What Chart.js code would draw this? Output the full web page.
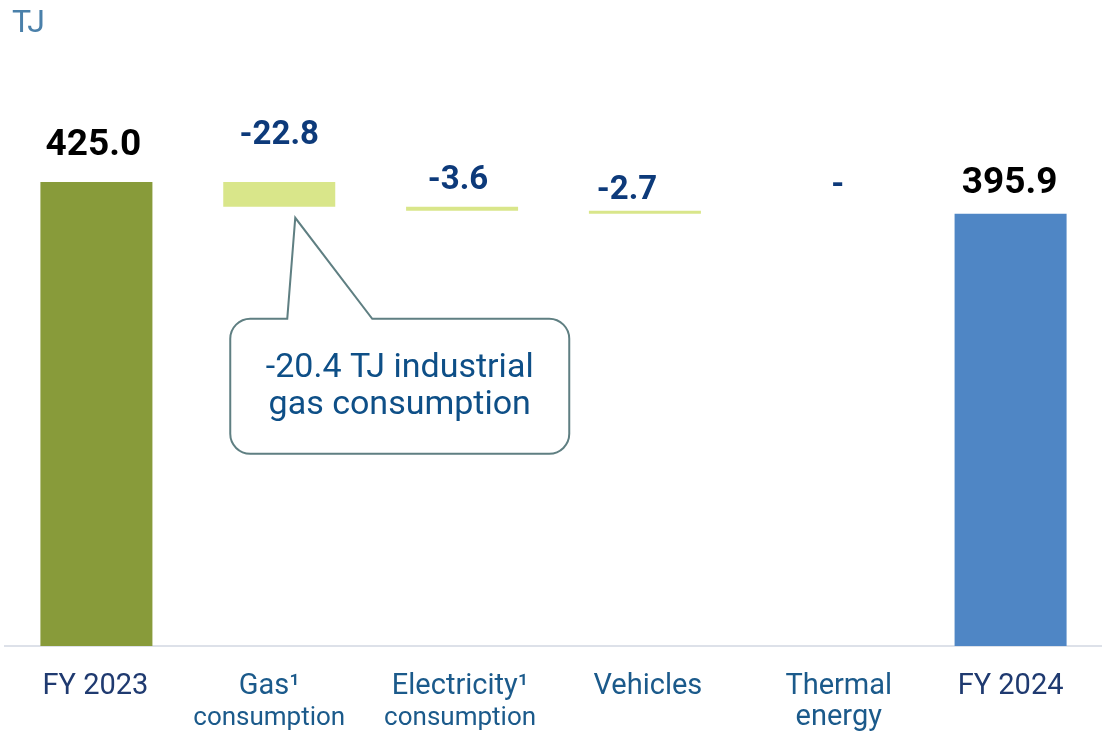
<!DOCTYPE html>
<html>
<head>
<meta charset="utf-8">
<script src="https://cdn.jsdelivr.net/npm/chart.js@4.4.1/dist/chart.umd.min.js"></script>
<style>
  html, body { margin: 0; padding: 0; background: #fff; }
  #wrap { position: relative; width: 1102px; height: 738px; }
</style>
</head>
<body>
<div id="wrap"><canvas id="energy-bridge" width="1102" height="738"></canvas></div>
<script>
var unitLabel = 'TJ';
var categories = ['FY 2023', 'Gas¹', 'Electricity¹', 'Vehicles', 'Thermal', 'FY 2024'];
var subLabels = ['', 'consumption', 'consumption', '', 'energy', ''];
var startTotal = 425.0;
var changes = [-22.8, -3.6, -2.7, 0];
var endTotal = 395.9;
var calloutLines = ['-20.4 TJ industrial', 'gas consumption'];

var barColors = ['#889b3a', '#d9e68a', '#d9e68a', '#d9e68a', '#d9e68a', '#4f86c5'];
// gap between bar top and the value label baseline, plus small sideways nudges
var labelGap = [27, 38, 18, 12, 20, 21];
var labelNudge = [-3, 0, -4, -18, 10, -1];
var tickNudge = [-1, -10, -2, 3, 11, 0];

// floating ranges for the bridge: totals start at zero, changes step down
var ranges = [[0, startTotal]];
var level = startTotal;
changes.forEach(function(c) {
  var next = level + c;
  ranges.push([Math.min(level, next), Math.max(level, next)]);
  level = next;
});
ranges.push([0, endTotal]);

var valueLabels = [startTotal.toFixed(1)]
  .concat(changes.map(function(c) { return c === 0 ? '-' : c.toFixed(1); }))
  .concat([endTotal.toFixed(1)]);

var isTotal = function(i) { return i === 0 || i === categories.length - 1; };

var bridgeText = {
  id: 'bridgeText',
  afterDraw: function(chart) {
    var ctx = chart.ctx;
    var area = chart.chartArea;
    var xScale = chart.scales.x;
    var meta = chart.getDatasetMeta(0);
    ctx.save();

    // unit
    ctx.font = '32px Roboto';
    ctx.fillStyle = '#4a80aa';
    ctx.textAlign = 'left';
    ctx.textBaseline = 'alphabetic';
    ctx.fillText(unitLabel, 12, 32);

    // value labels
    ctx.textAlign = 'center';
    meta.data.forEach(function(bar, i) {
      var top = Math.min(bar.y, bar.base);
      if (isTotal(i)) {
        ctx.font = 'bold 37px Roboto';
        ctx.fillStyle = '#000000';
      } else {
        ctx.font = 'bold 33px Roboto';
        ctx.fillStyle = '#0d3a7a';
      }
      ctx.fillText(valueLabels[i], bar.x + labelNudge[i], top - labelGap[i]);
    });

    // category labels
    categories.forEach(function(label, i) {
      var x = xScale.getPixelForValue(i) + tickNudge[i];
      ctx.font = '29px Roboto';
      ctx.fillStyle = isTotal(i) ? '#1f3a70' : '#1b5a8b';
      ctx.fillText(label, x, area.bottom + 48);
      if (subLabels[i]) {
        ctx.font = (subLabels[i] === 'consumption' ? '26px' : '29px') + ' Roboto';
        ctx.fillText(subLabels[i], x, area.bottom + 79);
      }
    });

    // callout under the gas bar
    var gas = meta.data[1];
    var bx = gas.x, by = Math.max(gas.y, gas.base);
    var left = bx - 49, right = bx + 290, top = by + 112, bottom = by + 247, r = 20;
    var tipX = bx + 16, tipY = by + 11, pL = bx + 8, pR = bx + 93;
    ctx.beginPath();
    ctx.moveTo(pL, top);
    ctx.lineTo(tipX, tipY);
    ctx.lineTo(pR, top);
    ctx.lineTo(right - r, top);
    ctx.arcTo(right, top, right, top + r, r);
    ctx.lineTo(right, bottom - r);
    ctx.arcTo(right, bottom, right - r, bottom, r);
    ctx.lineTo(left + r, bottom);
    ctx.arcTo(left, bottom, left, bottom - r, r);
    ctx.lineTo(left, top + r);
    ctx.arcTo(left, top, left + r, top, r);
    ctx.closePath();
    ctx.fillStyle = '#ffffff';
    ctx.fill();
    ctx.lineWidth = 2;
    ctx.strokeStyle = '#5f7f82';
    ctx.stroke();

    ctx.font = '34px Roboto';
    ctx.fillStyle = '#0e4f87';
    var cx = (left + right) / 2;
    ctx.fillText(calloutLines[0], cx, top + 58);
    ctx.fillText(calloutLines[1], cx, top + 95);

    ctx.restore();
  }
};

var chart = new Chart(document.getElementById('energy-bridge'), {
  type: 'bar',
  data: {
    labels: categories,
    datasets: [{
      data: ranges,
      backgroundColor: barColors,
      borderWidth: 0,
      barPercentage: 0.6126,
      categoryPercentage: 1
    }]
  },
  options: {
    responsive: false,
    animation: false,
    devicePixelRatio: 1,
    layout: { padding: { top: 100, bottom: 92, left: 5, right: 0 } },
    plugins: {
      legend: { display: false },
      tooltip: { enabled: false }
    },
    scales: {
      x: {
        grid: { display: false, drawTicks: false, tickLength: 0 },
        ticks: { display: false },
        border: { display: true, color: '#dde1e9', width: 2 }
      },
      y: {
        display: false,
        min: 0,
        max: 500
      }
    }
  },
  plugins: [bridgeText]
});
</script>
</body>
</html>
